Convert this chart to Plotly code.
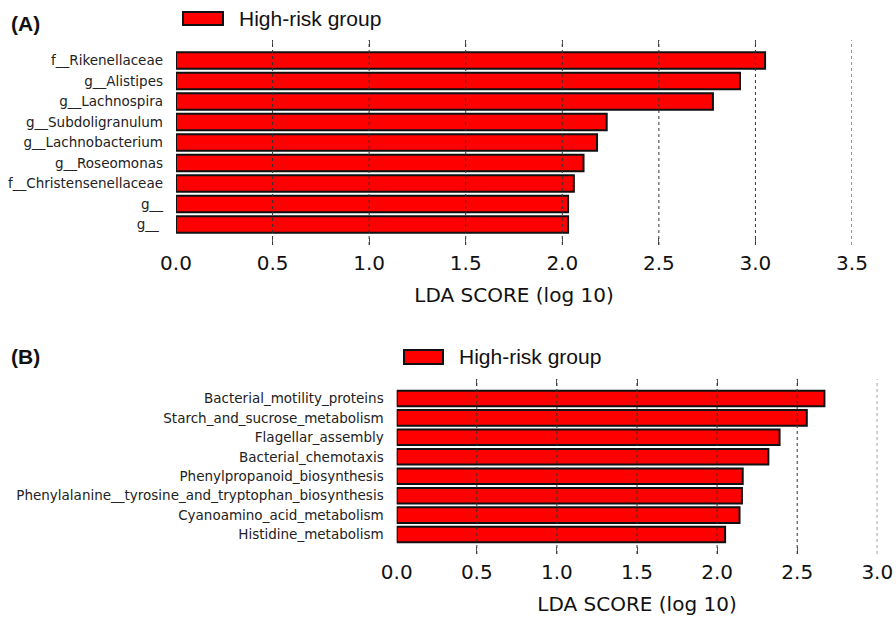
import plotly.graph_objects as go

# Panel A data
cats_a = ["f__Rikenellaceae", "g__Alistipes", "g__Lachnospira", "g__Subdoligranulum",
          "g__Lachnobacterium", "g__Roseomonas", "f__Christensenellaceae", "g__", "g__ "]
vals_a = [3.05, 2.92, 2.78, 2.23, 2.18, 2.11, 2.06, 2.03, 2.03]
ticks_a = [0.0, 0.5, 1.0, 1.5, 2.0, 2.5, 3.0, 3.5]

# Panel B data
cats_b = ["Bacterial_motility_proteins", "Starch_and_sucrose_metabolism", "Flagellar_assembly",
          "Bacterial_chemotaxis", "Phenylpropanoid_biosynthesis",
          "Phenylalanine__tyrosine_and_tryptophan_biosynthesis",
          "Cyanoamino_acid_metabolism", "Histidine_metabolism"]
vals_b = [2.67, 2.56, 2.39, 2.32, 2.16, 2.155, 2.14, 2.05]
ticks_b = [0.0, 0.5, 1.0, 1.5, 2.0, 2.5, 3.0]

legend_label = "High-risk group"
W, H = 896, 617

fig = go.Figure()
fig.add_trace(go.Bar(x=vals_a, y=cats_a, orientation="h", xaxis="x", yaxis="y",
                     marker=dict(color="#ff0000", line=dict(color="#111111", width=2)),
                     width=0.8, name=legend_label, showlegend=False))
fig.add_trace(go.Bar(x=vals_b, y=cats_b, orientation="h", xaxis="x2", yaxis="y2",
                     marker=dict(color="#ff0000", line=dict(color="#111111", width=2)),
                     width=0.8, name=legend_label, showlegend=False))

def px(x):
    return x / W

def py(y):
    return 1 - y / H

tickfont = dict(family="DejaVu Sans", size=20, color="#111111")
titlefont = dict(family="DejaVu Sans", size=20, color="#111111")
yfont = dict(family="DejaVu Sans", size=13.5, color="#222222")

def xaxis_cfg(domain, anchor, ticks, rng):
    return dict(domain=domain, anchor=anchor, range=rng, tickvals=ticks, automargin=False,
                ticktext=[f"{t:.1f}" for t in ticks], showgrid=False, zeroline=False,
                showline=True, linecolor="rgba(0,0,0,0)", mirror="ticks",
                ticks="inside", ticklen=7, tickwidth=1, tickcolor="#555555",
                tickfont=tickfont, title=dict(text="LDA SCORE (log 10)", font=titlefont, standoff=13))

def yaxis_cfg(domain, anchor, n):
    return dict(domain=domain, anchor=anchor, type="category", range=[n, -1], automargin=False,
                showgrid=False, zeroline=False, showline=False, ticks="",
                tickfont=yfont, ticklabelstandoff=12)

fig.update_layout(
    width=W, height=H, margin=dict(l=0, r=0, t=0, b=0),
    plot_bgcolor="white", paper_bgcolor="white", bargap=0.2,
    xaxis=xaxis_cfg([px(176), px(852)], "y", ticks_a, [0, 3.5]),
    yaxis=yaxis_cfg([py(245), py(40)], "x", len(cats_a)),
    xaxis2=xaxis_cfg([px(396.7), px(877.3)], "y2", ticks_b, [0, 3.0]),
    yaxis2=yaxis_cfg([py(554), py(379)], "x2", len(cats_b)),
)

shapes = []
for t in ticks_a[1:]:
    shapes.append(dict(type="line", xref="x", yref="y domain", x0=t, x1=t, y0=0, y1=1,
                       line=dict(color="#333333", width=1, dash="dot"), layer="above"))
for t in ticks_b[1:]:
    shapes.append(dict(type="line", xref="x2", yref="y2 domain", x0=t, x1=t, y0=0, y1=1,
                       line=dict(color="#333333", width=1, dash="dot"), layer="above"))
# legend boxes
shapes.append(dict(type="rect", xref="paper", yref="paper", x0=px(183), x1=px(223), y0=py(25), y1=py(12),
                   fillcolor="#ff0000", line=dict(color="#111111", width=2)))
shapes.append(dict(type="rect", xref="paper", yref="paper", x0=px(404), x1=px(443), y0=py(364), y1=py(350),
                   fillcolor="#ff0000", line=dict(color="#111111", width=2)))
fig.update_layout(shapes=shapes)

legfont = dict(family="Liberation Sans, Arial", size=21, color="#111111")
panfont = dict(family="Liberation Sans, Arial", size=21, color="#111111")
fig.add_annotation(x=px(237), y=py(18), xref="paper", yref="paper", text=legend_label,
                   showarrow=False, xanchor="left", yanchor="middle", font=legfont)
fig.add_annotation(x=px(457), y=py(356), xref="paper", yref="paper", text=legend_label,
                   showarrow=False, xanchor="left", yanchor="middle", font=legfont)
fig.add_annotation(x=px(9), y=py(24), xref="paper", yref="paper", text="<b>(A)</b>",
                   showarrow=False, xanchor="left", yanchor="middle", font=panfont)
fig.add_annotation(x=px(9), y=py(356), xref="paper", yref="paper", text="<b>(B)</b>",
                   showarrow=False, xanchor="left", yanchor="middle", font=panfont)

fig.write_html("out.html", config={"displayModeBar": False},
               post_script="document.body.style.margin='0';document.body.style.overflow='hidden';")
